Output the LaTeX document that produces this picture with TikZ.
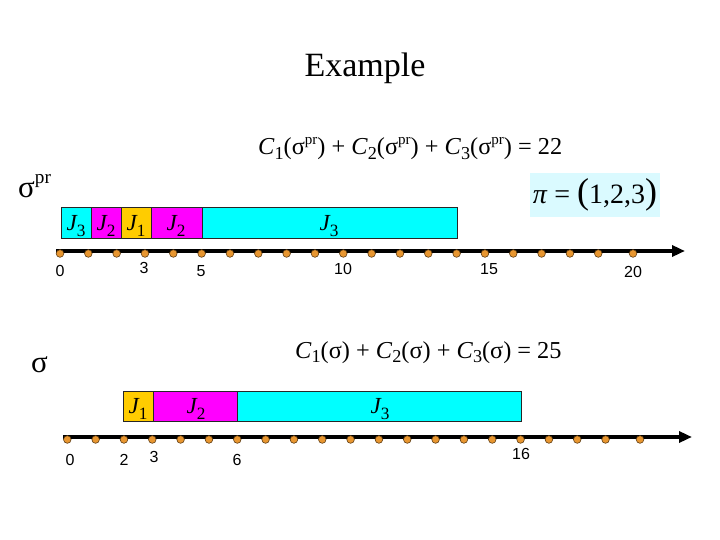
\documentclass[tikz,border=0pt]{standalone}
\usepackage{fontspec}
\usepackage{graphicx}
\setmainfont{Liberation Serif}
\setsansfont{Liberation Sans}
\usetikzlibrary{arrows.meta}
\definecolor{jobcyan}{RGB}{0,255,255}
\definecolor{jobmag}{RGB}{255,0,255}
\definecolor{jobgold}{RGB}{255,204,0}
\definecolor{tickdot}{RGB}{232,150,48}
\definecolor{pibox}{RGB}{218,250,255}
\newcommand\dn[2][0.2em]{\raisebox{-#1}{\scalebox{0.75}{\upshape #2}}}
\newcommand\up[1]{\raisebox{0.42em}{\scalebox{0.62}{#1}}}
\tikzset{
  job/.style={draw=black!85, line width=0.8pt},
  joblabel/.style={font=\fontsize{23}{24}\selectfont\itshape, inner sep=0pt, anchor=base},
  ticklabel/.style={font=\sffamily\fontsize{16}{18}\selectfont, inner sep=0pt},
  timeaxis/.style={line width=3.5pt, -{Triangle[length=13pt,width=11pt]}},
  tickmark/.style={fill=tickdot, draw=black!60!tickdot, line width=0.6pt},
  eqn/.style={font=\fontsize{24.3}{26}\selectfont, inner sep=0pt, anchor=base west},
}
\begin{document}
\begin{tikzpicture}[x=1pt,y=-1pt]
\useasboundingbox (0,0) rectangle (720,540);
\fill[white] (0,0) rectangle (720,540);

% title and sums
\node[font=\fontsize{34}{36}\selectfont, inner sep=0pt, anchor=base] (title) at (365,77) {Example};
\node[eqn] (sumpr) at (258,155) {\textit{C}\dn{1}(σ\up{pr}) + \textit{C}\dn{2}(σ\up{pr}) + \textit{C}\dn{3}(σ\up{pr}) = 22};
\node[eqn] (sumsig) at (295,358) {\textit{C}\dn{1}(σ) + \textit{C}\dn{2}(σ) + \textit{C}\dn{3}(σ) = 25};

\node[font=\fontsize{31}{33}\selectfont, inner sep=0pt, anchor=base west] (sigmapr) at (18,197) {σ\up{pr}};
\node[font=\fontsize{31}{33}\selectfont, inner sep=0pt, anchor=base west] (sigma) at (31,372) {σ};

% permutation
\node[fill=pibox, minimum width=130pt, minimum height=44pt, inner sep=0pt,
      font=\fontsize{28}{30}\selectfont] (perm) at (595,195)
  {\textit{π} = {\fontsize{36}{36}\selectfont(}1,2,3{\fontsize{36}{36}\selectfont)}};

% schedule sigma^pr
\draw[job, fill=jobcyan] (61,207) rectangle (91,238);
\draw[job, fill=jobmag]  (91,207) rectangle (121,238);
\draw[job, fill=jobgold] (121,207) rectangle (151,238);
\draw[job, fill=jobmag]  (151,207) rectangle (202,238);
\draw[job, fill=jobcyan] (202,207) rectangle (457,238);
\node[joblabel] (pjthreea) at (76,230) {J\dn[0.3em]{3}};
\node[joblabel] (pjtwoa)   at (106,230) {J\dn[0.3em]{2}};
\node[joblabel] (pjone)    at (136,230) {J\dn[0.3em]{1}};
\node[joblabel] (pjtwob)   at (176,230) {J\dn[0.3em]{2}};
\node[joblabel] (pjthreeb) at (329,230) {J\dn[0.3em]{3}};

\coordinate (topstart) at (56,251);
\coordinate (topend) at (685,251);
\draw[timeaxis] (topstart) -- (topend);
\foreach \k in {0,...,19}
  \filldraw[tickmark] (60+28.33*\k,253.5) circle (3.8pt);
\filldraw[tickmark] (633,253.5) circle (3.8pt);
\foreach \v/\x/\y in {0/60/271, 3/144/268, 5/201/271, 10/343/269, 15/489/269, 20/633/272}
  \node[ticklabel] (ptick\v) at (\x,\y) {\v};

% schedule sigma
\draw[job, fill=jobgold] (123,391) rectangle (153,421);
\draw[job, fill=jobmag]  (153,391) rectangle (237,421);
\draw[job, fill=jobcyan] (237,391) rectangle (521,421);
\node[joblabel] (sjone)   at (138,413) {J\dn[0.3em]{1}};
\node[joblabel] (sjtwo)   at (196,413) {J\dn[0.3em]{2}};
\node[joblabel] (sjthree) at (380,413) {J\dn[0.3em]{3}};

\coordinate (botstart) at (63,437);
\coordinate (botend) at (692,437);
\draw[timeaxis] (botstart) -- (botend);
\foreach \k in {0,...,19}
  \filldraw[tickmark] (67.3+28.33*\k,439.5) circle (3.8pt);
\filldraw[tickmark] (640,439.5) circle (3.8pt);
\foreach \v/\x/\y in {0/70/460, 2/124/460, 3/154/457, 6/237/460, 16/521/454}
  \node[ticklabel] (stick\v) at (\x,\y) {\v};
\end{tikzpicture}
\end{document}
